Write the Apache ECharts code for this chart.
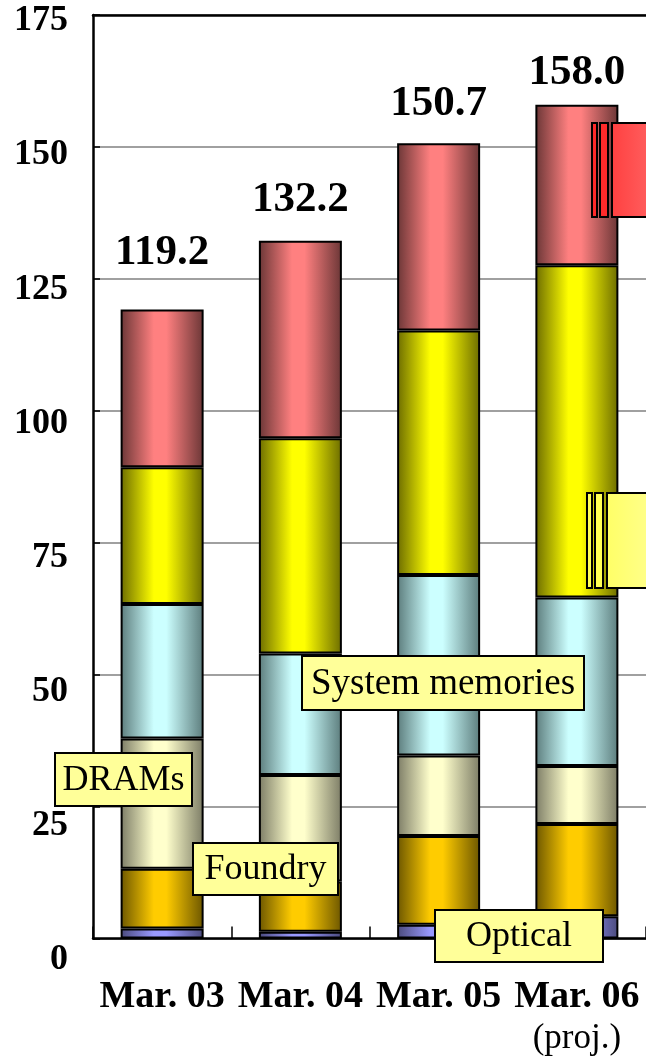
<!DOCTYPE html>
<html>
<head>
<meta charset="utf-8">
<script src="https://cdn.jsdelivr.net/npm/echarts@6/dist/echarts.min.js"></script>
<style>
  html, body { margin: 0; padding: 0; background: #ffffff; }
  #chart { width: 646px; height: 1056px; }
</style>
</head>
<body>
<div id="chart"></div>
<script>
// Fiscal periods on the category axis
const periods = ['Mar. 03', 'Mar. 04', 'Mar. 05', 'Mar. 06'];
const projectedNote = '(proj.)';

// Stacked segments, bottom to top
const optical        = [1.9, 1.3, 2.6, 4.2];
const foundry        = [11.3, 9.5, 16.8, 17.5];
const drams          = [24.7, 20.2, 15.3, 11.0];
const systemMemories = [25.5, 23.0, 34.2, 31.9];
const yellowSegment  = [25.9, 40.8, 46.3, 63.0];
const redSegment     = [29.9, 37.4, 35.5, 30.4];

// Value axis ticks
const yMin = 0, yMax = 175, yStep = 25;

const FONT = '"Liberation Serif", "Times New Roman", serif';

// Cylinder-like shading: dark edges, bright middle
function shade(edge, mid) {
  return new echarts.graphic.LinearGradient(0, 0, 1, 0, [
    { offset: 0, color: edge },
    { offset: 0.4, color: mid },
    { offset: 0.55, color: mid },
    { offset: 1, color: edge }
  ]);
}

const layers = [
  { name: 'Optical', data: optical, color: shade('#4a4a7c', '#9999ff') },
  { name: 'Foundry', data: foundry, color: shade('#6c5600', '#ffcc00') },
  { name: 'DRAMs', data: drams, color: shade('#7c7c66', '#ffffcc') },
  { name: 'System memories', data: systemMemories, color: shade('#5c7c7c', '#ccffff') },
  { name: 'Yellow', data: yellowSegment, color: shade('#6c6c00', '#ffff00') },
  { name: 'Red', data: redSegment, color: shade('#6a3636', '#ff8080') }
];

// Height of each total label above its bar
const totalLabelGap = [35, 19, 18, 10];

function stackTotal(i) {
  return layers.reduce((s, l) => s + l.data[i], 0);
}

const series = layers.map((l, k) => {
  const isTop = k === layers.length - 1;
  return {
    name: l.name,
    type: 'bar',
    stack: 'total',
    xAxisIndex: 0,
    yAxisIndex: 0,
    barWidth: 83,
    itemStyle: { color: l.color, borderColor: '#000', borderWidth: 2 },
    emphasis: { disabled: true },
    data: l.data.map((v, i) => isTop ? {
      value: v,
      label: {
        show: true,
        position: 'top',
        distance: totalLabelGap[i],
        formatter: () => stackTotal(i).toFixed(1),
        fontFamily: FONT,
        fontWeight: 'bold',
        fontSize: 43,
        color: '#000'
      }
    } : v)
  };
});

// Callout boxes naming the segments
function callout(x, y, w, h, text, size) {
  return {
    type: 'group', z: 100,
    children: [
      { type: 'rect', shape: { x: x, y: y, width: w, height: h },
        style: { fill: '#ffff99', stroke: '#000', lineWidth: 2 }, z: 100 },
      { type: 'text', x: x + w / 2, y: y + h / 2 + 1, z: 101,
        style: { text: text, font: size + 'px ' + FONT, fill: '#000',
                 textAlign: 'center', textVerticalAlign: 'middle' } }
    ]
  };
}

// Stepped tab tags at the right edge
function tab(x1, x2, xMain, y, h, thin, mainFrom, mainTo) {
  return {
    type: 'group', z: 100,
    children: [
      { type: 'rect', z: 100, shape: { x: x1, y: y, width: 5, height: h },
        style: { fill: thin, stroke: '#000', lineWidth: 2 } },
      { type: 'rect', z: 100, shape: { x: x2, y: y, width: 8, height: h },
        style: { fill: thin, stroke: '#000', lineWidth: 2 } },
      { type: 'rect', z: 100, shape: { x: xMain, y: y, width: 80, height: h },
        style: { fill: new echarts.graphic.LinearGradient(0, 0, 1, 0, [
          { offset: 0, color: mainFrom }, { offset: 1, color: mainTo }]),
          stroke: '#000', lineWidth: 2 } }
    ]
  };
}

const chart = echarts.init(document.getElementById('chart'), null, { renderer: 'canvas' });

chart.setOption({
  animation: false,
  backgroundColor: '#ffffff',
  grid: [
    { left: 93, top: 15, width: 553, height: 927 },
    { left: 93, top: 21, width: 553, height: 939 }
  ],
  xAxis: [
    {
      type: 'category', gridIndex: 0, data: periods, position: 'bottom',
      axisLine: { show: true, lineStyle: { color: '#000', width: 2.5 } },
      axisTick: { show: true, inside: true, length: 12, lineStyle: { color: '#000', width: 1.5 } },
      axisLabel: {
        margin: 39,
        formatter: (v) => v === periods[periods.length - 1]
          ? '{a|' + v + '}\n{p|' + projectedNote + '}'
          : '{a|' + v + '}',
        rich: {
          a: { fontFamily: FONT, fontWeight: 'bold', fontSize: 38, lineHeight: 40, color: '#000' },
          p: { fontFamily: FONT, fontSize: 35, lineHeight: 42, color: '#000', align: 'center' }
        }
      }
    },
    {
      type: 'category', gridIndex: 0, data: periods, position: 'top',
      axisLine: { show: true, lineStyle: { color: '#000', width: 2.5 } },
      axisTick: { show: false }, axisLabel: { show: false }
    },
    { type: 'category', gridIndex: 1, data: periods, show: false }
  ],
  yAxis: [
    {
      type: 'value', gridIndex: 0, min: yMin, max: yMax, interval: yStep,
      axisLine: { show: true, lineStyle: { color: '#000', width: 2.5 } },
      axisTick: { show: true, inside: true, length: 7, lineStyle: { color: '#000', width: 1.5 } },
      axisLabel: { show: false },
      splitLine: { show: true, lineStyle: { color: '#808080', width: 1.5 } }
    },
    {
      type: 'value', gridIndex: 1, min: yMin, max: yMax, interval: yStep,
      axisLine: { show: false }, axisTick: { show: false }, splitLine: { show: false },
      axisLabel: { margin: 25, fontFamily: FONT, fontWeight: 'bold', fontSize: 36, color: '#000' }
    }
  ],
  series: series,
  graphic: [
    callout(302, 656, 282, 54, 'System memories', 37),
    callout(55, 753, 137, 53, 'DRAMs', 36),
    callout(193, 843, 145, 52, 'Foundry', 36),
    callout(435, 910, 168, 52, 'Optical', 36),
    tab(592, 600, 612, 123, 94, '#ff2a2a', '#ff4040', '#ff8080'),
    tab(587, 595, 607, 493, 95, '#ffff55', '#ffff66', '#ffffaa')
  ]
});
</script>
</body>
</html>
